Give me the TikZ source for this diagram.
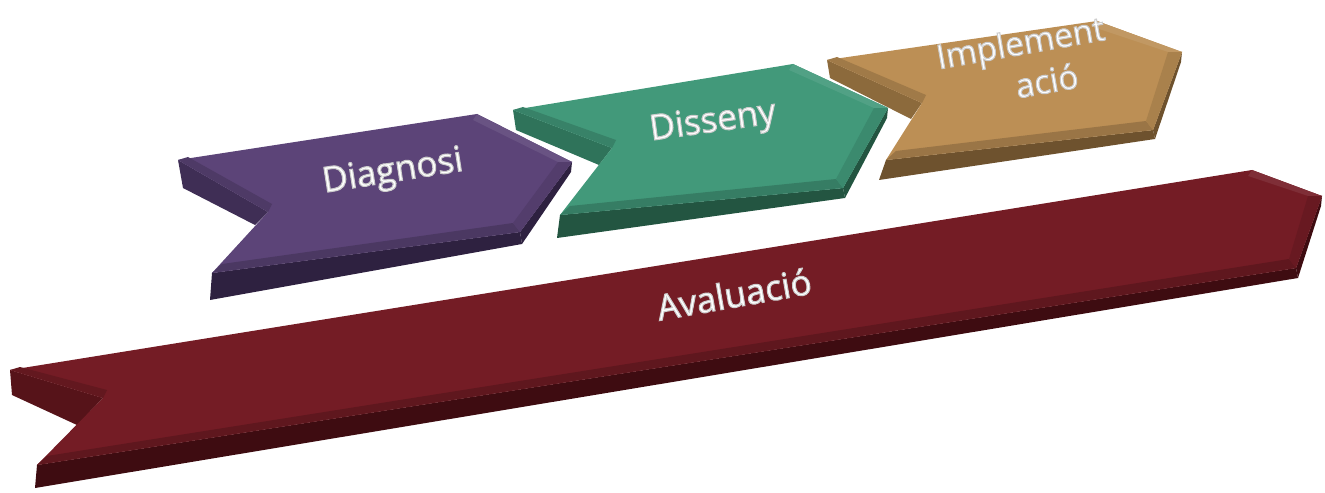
\documentclass[tikz,border=0pt]{standalone}
\usepackage{fontspec}
\setmainfont{Open Sans}
\usetikzlibrary{calc}
\definecolor{pMain}{HTML}{5C4478}\definecolor{pLeft}{HTML}{3F2E55}\definecolor{pDark}{HTML}{2E2140}
\definecolor{gMain}{HTML}{42997A}\definecolor{gLeft}{HTML}{2F735A}\definecolor{gDark}{HTML}{235541}
\definecolor{oMain}{HTML}{BC8F55}\definecolor{oLeft}{HTML}{8C6A3C}\definecolor{oDark}{HTML}{6E522E}
\definecolor{rMain}{HTML}{741C25}\definecolor{rLeft}{HTML}{561319}\definecolor{rDark}{HTML}{3E0C11}
\newcommand\outl[1]{\special{pdf:literal direct 2 Tr 0.6 w 0.8 G}#1\special{pdf:literal direct 0 Tr}}
\newcommand\drawpiece[4]{%
  \fill[#3] (#1A)--(#1F)--(#1Fb)--(#1Ab)--cycle;
  \fill[#4] (#1E)--(#1D)--(#1Db)--(#1Eb)--cycle;
  \fill[#4] (#1D)--(#1C)--(#1Cb)--(#1Db)--cycle;
  \fill[#2] (#1A)--(#1B)--(#1C)--(#1D)--(#1E)--(#1F)--cycle;
  \fill[#2!82!black] (#1E)--(#1D)--($(#1D)+(-7,-9)$)--($(#1E)+(10,-9)$)--cycle;
  \fill[#2!90!black] (#1D)--(#1C)--($(#1C)+(-14,0)$)--($(#1D)+(-7,-9)$)--cycle;
  \fill[#2!92!white] (#1B)--(#1C)--($(#1C)+(-14,0)$)--($(#1B)+(-4,6)$)--cycle;
  \fill[#2!85!black] (#1A)--(#1F)--($(#1F)+(4,-8)$)--($(#1A)+(10,-3)$)--cycle;
}
\tikzset{lbl/.style={text=white,font=\fontsize{20}{22}\selectfont,inner sep=0pt,align=center}}
\begin{document}
\begin{tikzpicture}[x=0.02cm,y=-0.02cm]
\useasboundingbox (0,0) rectangle (1325,493);
% gold
\coordinate (oA) at (827,60);  \coordinate (oAb) at (830,78);
\coordinate (oB) at (1097,21);
\coordinate (oC) at (1182,52); \coordinate (oCb) at (1181,62);
\coordinate (oD) at (1153,130);\coordinate (oDb) at (1155,139);
\coordinate (oE) at (886,160); \coordinate (oEb) at (879,180);
\coordinate (oF) at (922,103); \coordinate (oFb) at (911,119);
\drawpiece{o}{oMain}{oLeft}{oDark}
% green
\coordinate (gA) at (513,110); \coordinate (gAb) at (516,130);
\coordinate (gB) at (793,64);
\coordinate (gC) at (888,108); \coordinate (gCb) at (887,118);
\coordinate (gD) at (843,188); \coordinate (gDb) at (845,198);
\coordinate (gE) at (560,215); \coordinate (gEb) at (557,238);
\coordinate (gF) at (612,148); \coordinate (gFb) at (599,165);
\drawpiece{g}{gMain}{gLeft}{gDark}
% purple
\coordinate (pA) at (178,160); \coordinate (pAb) at (183,188);
\coordinate (pB) at (477,114);
\coordinate (pC) at (572,162); \coordinate (pCb) at (571,172);
\coordinate (pD) at (520,232); \coordinate (pDb) at (522,244);
\coordinate (pE) at (212,273); \coordinate (pEb) at (210,300);
\coordinate (pF) at (268,212); \coordinate (pFb) at (255,225);
\drawpiece{p}{pMain}{pLeft}{pDark}
% red
\coordinate (rA) at (10,370);  \coordinate (rAb) at (12,395);
\coordinate (rB) at (1252,170);
\coordinate (rC) at (1322,196);\coordinate (rCb) at (1321,206);
\coordinate (rD) at (1296,268);\coordinate (rDb) at (1298,278);
\coordinate (rE) at (37,465);  \coordinate (rEb) at (35,488);
\coordinate (rF) at (103,398); \coordinate (rFb) at (77,425);
\drawpiece{r}{rMain}{rLeft}{rDark}
% labels
\node[lbl,rotate=9] (tDiag) at (393,173) {\outl{Diagnosi}};
\node[lbl,rotate=8] (tDiss) at (713,123) {\outl{Disseny}};
\node[lbl,rotate=10,font=\fontsize{19}{19}\selectfont] (tImpl) at (1024,63) {\outl{Implement}\\[4pt]\hspace*{22pt}\outl{ació}};
\node[lbl,rotate=10] (tAval) at (734,294) {\outl{Avaluació}};
\end{tikzpicture}
\end{document}
